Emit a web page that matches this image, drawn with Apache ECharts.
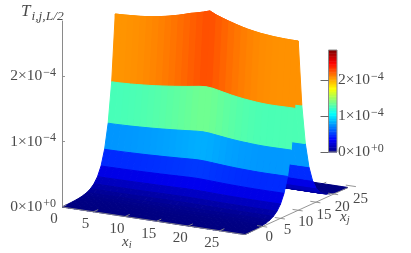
<!DOCTYPE html>
<html><head><meta charset="utf-8">
<style>html,body{margin:0;padding:0;background:#fff}#c{width:411px;height:253px}</style>
<script src="https://cdn.jsdelivr.net/npm/echarts@6/dist/echarts.min.js"></script>
</head><body><div id="c"></div>
<script>
const xiNodes = [0,1,2,3,4,5,6,7,8,9,10,11,12,13,14,15,16,17,18,19,20,21,22,23,24,25,26,27,28,29];
const xjNodes = [-5,-4,-3,-2,-1,0,1,2,3,4,5,6,7,8,9,10,11,12,13,14,15,16,17,18,19,20,21,22,23,24];
// ridge height along x_i (units of 1e-4), sharp peak
const ridgeT = [2.576,2.579,2.585,2.591,2.598,2.609,2.621,2.638,2.656,2.678,2.702,2.730,2.760,2.782,2.809,2.840,2.794,2.760,2.728,2.699,2.672,2.649,2.631,2.615,2.605,2.595,2.589,2.585,2.583,2.583];
// height along x_i on the flanks below the ridge (rounder peak), same units
const flankT = [2.576,2.576,2.584,2.591,2.602,2.615,2.628,2.643,2.661,2.680,2.700,2.722,2.745,2.770,2.795,2.808,2.795,2.762,2.728,2.695,2.668,2.645,2.628,2.612,2.600,2.594,2.594,2.597,2.600,2.602];
// wall profile along x_j as a fraction of the edge height
const wallFraction = [0,.0006,.0014,.0025,.0042,.007,.0115,.019,.031,.051,.084,.1375,.227,.372,.608,1,.608,.372,.227,.1375,.084,.051,.031,.019,.0115,.007,.0042,.0025,.0014,.0006];
const xiTicks = [0,5,10,15,20,25];
const xjTicks = [0,5,10,15,20,25];
const zTicks = [0,1e-4,2e-4];
const zTickBase = ['0×10','1×10','2×10'];
const zTickExp = ['+0','−4','−4'];
const zMax = 2.84e-4;
const jet = ['#000080','#0000ff','#0080ff','#00ffff','#80ff80','#ffff00','#ff8000','#ff0000','#800000'];
const inkColor = '#4a4a4a', axisColor = '#8a8a8a';
const serif = '"Liberation Serif","DejaVu Serif",serif';

// oblique view: pixels per unit are the ratios below, expressed in axis units
const pxPerXi = 6.31, pxPerT = 65.5e4;
const jShiftX = 3.55, jRise = 1.62, iDrop = 0.95;
const xjStart = xjNodes[0];
function project(xi, xj, T) {
  const m = xj - xjStart;
  return [xi + m * jShiftX / pxPerXi, T + (jRise * m - iDrop * xi) / pxPerT];
}
const T = (a, b) => (wallFraction[b] === 1 ? ridgeT[a] : flankT[a]) * 1e-4 * wallFraction[b];

// cells from back to front
const cells = [];
for (let b = xjNodes.length - 2; b >= 0; b--) {
  for (let a = 0; a < xiNodes.length - 1; a++) {
    const c = [T(a,b), T(a+1,b), T(a+1,b+1), T(a,b+1)];
    cells.push([a, b, (c[0]+c[1]+c[2]+c[3]) / 4, c[0], c[1], c[2], c[3]]);
  }
}
const barLevels = [];
const barSteps = 64;
for (let s = 0; s < barSteps; s++) barLevels.push([s, s + 1, zMax * (s + .5) / barSteps]);

function xiMax(){ return xiNodes[xiNodes.length-1]; }
function xjMax(){ return xjNodes[xjNodes.length-1]; }

const surface = {
  type:'custom', coordinateSystem:'cartesian2d', xAxisIndex:0, yAxisIndex:0, data:cells,
  silent:true, animation:false, z:3, clip:false,
  renderItem(params, api){
    const a = api.value(0), b = api.value(1);
    const col = api.visual('color');
    const pts = [[a,b,3],[a+1,b,4],[a+1,b+1,5],[a,b+1,6]].map(q =>
      api.coord(project(xiNodes[q[0]], xjNodes[q[1]], api.value(q[2]))));
    return {type:'polygon', shape:{points:pts}, style:{fill:col, stroke:col, lineWidth:1, lineJoin:'round'}};
  }
};
const bar = {
  type:'custom', coordinateSystem:'cartesian2d', xAxisIndex:1, yAxisIndex:1, data:barLevels,
  silent:true, animation:false, z:3,
  renderItem(params, api){
    const s = api.value(0);
    const p0 = api.coord([0, zMax * s / barSteps]), p1 = api.coord([1, zMax * (s+1) / barSteps]);
    const col = api.visual('color');
    return {type:'rect', shape:{x:p0[0], y:p1[1], width:p1[0]-p0[0], height:p0[1]-p1[1]+.5}, style:{fill:col}};
  }
};
function line(api, a, b, w){
  const p = api.coord(a), q = api.coord(b);
  return {type:'line', shape:{x1:p[0],y1:p[1],x2:q[0],y2:q[1]}, style:{stroke:axisColor, lineWidth:w||.9}};
}
// ticks that the surface covers
const backTicks = {
  type:'custom', coordinateSystem:'cartesian2d', xAxisIndex:0, yAxisIndex:0, silent:true, animation:false, z:2,
  data: xiTicks.map(v=>[v,0]).concat(xjTicks.map(v=>[v,1])),
  renderItem(params, api){
    const v = api.value(0);
    if (api.value(1) === 0) {
      return line(api, project(v, xjMax()+1, 0), project(v, xjMax()-.3, 0));
    }
    return line(api, project(0, v, 0), project(1.2, v, 0));
  }
};
const xiAxisMarks = {
  type:'custom', coordinateSystem:'cartesian2d', xAxisIndex:0, yAxisIndex:0, silent:true, animation:false, z:4,
  data: xiTicks.map(v=>[v]),
  renderItem(params, api){
    const v = api.value(0);
    const p = api.coord(project(v, xjStart, 0));
    return {type:'group', children:[
      line(api, project(v, xjStart, 0), project(v, xjStart+1.3, 0)),
      {type:'text', x:p[0]-8, y:p[1]+12.5, style:{text:String(v), fill:inkColor, font:'15px '+serif, textAlign:'center', textVerticalAlign:'middle'}}
    ]};
  }
};
const xjAxisMarks = {
  type:'custom', coordinateSystem:'cartesian2d', xAxisIndex:0, yAxisIndex:0, silent:true, animation:false, z:4,
  data: xjTicks.map(v=>[v]),
  renderItem(params, api){
    const v = api.value(0);
    const I = xiMax();
    const p = api.coord(project(I, v, 0));
    return {type:'group', children:[
      line(api, project(I-.9, v, 0), project(I+.7, v, 0)),
      {type:'text', x:p[0]+6.5+v*.1, y:p[1]+11+v*.1, style:{text:String(v), fill:inkColor, font:'15px '+serif, textAlign:'center', textVerticalAlign:'middle'}}
    ]};
  }
};
const axisLines = {
  type:'custom', coordinateSystem:'cartesian2d', xAxisIndex:0, yAxisIndex:0, silent:true, animation:false, z:4,
  data:[[0],[1]],
  renderItem(params, api){
    const I = xiMax();
    if (api.value(0) === 0) return line(api, project(0,xjStart,0), project(I,xjStart,0));
    return line(api, project(I,xjStart,0), project(I,xjMax(),0));
  }
};
const option = {
  animation:false, backgroundColor:'#fff',
  grid:[
    {left:62, top:21, width:290.26, height:186, containLabel:false},
    {left:328.5, top:50, width:8.5, height:102, show:true, borderColor:axisColor, borderWidth:1, backgroundColor:'transparent', z:5}
  ],
  xAxis:[
    {type:'value', gridIndex:0, min:0, max:46, show:false},
    {type:'value', gridIndex:1, min:0, max:1, show:false}
  ],
  yAxis:[
    {type:'value', gridIndex:0, min:0, max:zMax, position:'left',
     axisLine:{show:true, onZero:false, lineStyle:{color:axisColor, width:1}},
     axisTick:{show:true, inside:true, length:3, customValues:zTicks, lineStyle:{color:axisColor, width:.9}},
     splitLine:{show:false},
     axisLabel:{customValues:zTicks, margin:6, color:inkColor, formatter:tickFmt, rich:richTick()}},
    {type:'value', gridIndex:1, min:0, max:zMax, position:'right', z:6,
     axisLine:{show:false},
     axisTick:{show:true, inside:true, length:8, customValues:zTicks, lineStyle:{color:'#555', width:.9}},
     splitLine:{show:false},
     axisLabel:{customValues:zTicks, margin:1, color:inkColor, formatter:tickFmt, rich:richTick()}}
  ],
  visualMap:[{type:'continuous', show:false, min:0, max:zMax, dimension:2, seriesIndex:[1,2], inRange:{color:jet}}],
  series:[backTicks, surface, bar, axisLines, xiAxisMarks, xjAxisMarks],
  graphic:[
    {type:'text', left:21, top:3, z:10, style:{rich:{t:{font:'italic 17px '+serif, fill:inkColor}, s:{font:'italic 13.5px '+serif, fill:inkColor, padding:[9,0,0,1]}}, text:'{t|T}{s|i,j,L/2}'}},
    {type:'text', left:122, top:235, z:10, style:{rich:{t:{font:'italic 15px '+serif, fill:inkColor}, s:{font:'italic 10.5px '+serif, fill:inkColor, padding:[6,0,0,0]}}, text:'{t|x}{s|i}'}},
    {type:'text', left:340, top:210, z:10, style:{rich:{t:{font:'italic 15px '+serif, fill:inkColor}, s:{font:'italic 10.5px '+serif, fill:inkColor, padding:[6,0,0,0]}}, text:'{t|x}{s|j}'}}
  ]
};
function tickFmt(v){
  const k = zTicks.findIndex(t => Math.abs(t - v) < 1e-9);
  return k < 0 ? '' : '{b|' + zTickBase[k] + '}{e|' + zTickExp[k] + '}';
}
function richTick(){
  return {b:{fontFamily:serif, fontSize:15.5, color:inkColor}, e:{fontFamily:serif, fontSize:12, color:inkColor, padding:[0,0,7,1]}};
}
echarts.init(document.getElementById('c'), null, {renderer:'canvas'}).setOption(option);
</script></body></html>
